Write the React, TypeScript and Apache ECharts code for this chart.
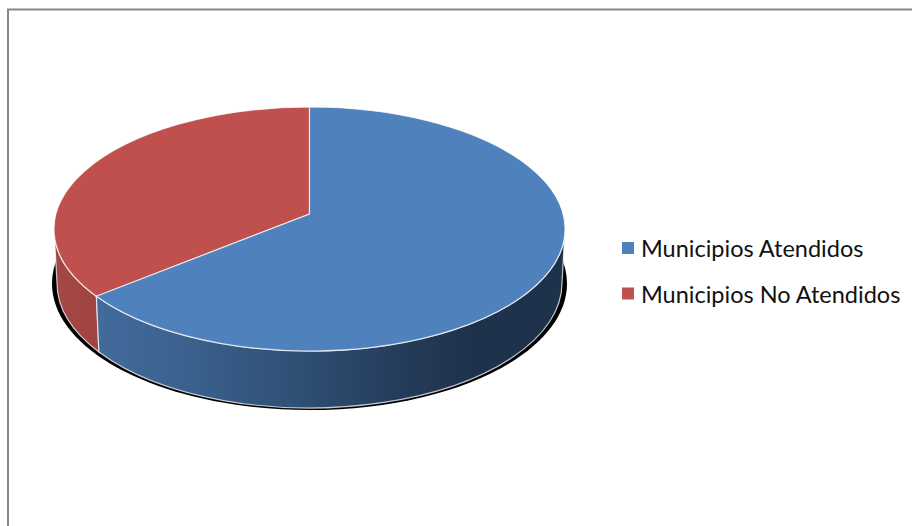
import React, { useEffect, useRef } from "react";
import * as echarts from "echarts";

const categories = ["Municipios Atendidos", "Municipios No Atendidos"];
const seriesValues = [65.7, 34.3];
const topColors = ["#4F81BD", "#C0504D"];

const TOP = { cx: 309.5, cy: 229, rx: 255.5, ry: 122 };
const BOTTOM = { cx: 309.5, cy: 283, rx: 252.5, ry: 125 };
const APEX = { x: 309.5, y: 214 };
const EDGE = "rgba(255,255,255,0.75)";

const pt = (e: any, a: number) => ({ x: e.cx + e.rx * Math.sin(a), y: e.cy - e.ry * Math.cos(a) });
const arcTo = (e: any, p: any, large: number, sweep: number) =>
  `A ${e.rx} ${e.ry} 0 ${large} ${sweep} ${p.x} ${p.y}`;

const total = seriesValues.reduce((s, v) => s + v, 0);
const angleOf = (v: number) => (v / total) * Math.PI * 2;

const sideGradients = [
  new echarts.graphic.LinearGradient(98, 0, 565, 0, [
    { offset: 0, color: "#416B9C" },
    { offset: 0.175, color: "#3B628F" },
    { offset: 0.43, color: "#2F4F74" },
    { offset: 0.65, color: "#243C5A" },
    { offset: 0.8, color: "#1F324B" },
    { offset: 1, color: "#1F324B" },
  ], true as any),
  new echarts.graphic.LinearGradient(54, 0, 100, 0, [
    { offset: 0, color: "#A54745" },
    { offset: 1, color: "#A04341" },
  ], true as any),
];

function renderSlice(index: number) {
  return (_params: any, api: any) => {
    const value = api.value(0);
    const start = index === 0 ? 0 : angleOf(seriesValues[0]);
    const end = start + angleOf(value);
    const a = pt(TOP, start);
    const b = pt(TOP, end);
    const large = end - start > Math.PI ? 1 : 0;
    const children: any[] = [];
    if (index === 1) {
      children.push({
        type: "ellipse",
        shape: { cx: 309.5, cy: 283.5, rx: 257.5, ry: 126.5 },
        style: { fill: "#000000" },
      });
    }
    const from = Math.max(start, Math.PI / 2);
    const to = Math.min(end, (Math.PI * 3) / 2);
    const t0 = pt(TOP, from);
    const t1 = pt(TOP, to);
    const b0 = pt(BOTTOM, from);
    const b1 = pt(BOTTOM, to);
    children.push({
      type: "path",
      shape: {
        pathData: `M ${t0.x} ${t0.y} ${arcTo(TOP, t1, 0, 1)} L ${b1.x} ${b1.y} ${arcTo(BOTTOM, b0, 0, 0)} Z`,
      },
      style: { fill: sideGradients[index], stroke: EDGE, lineWidth: 1.2 },
    });
    children.push({
      type: "path",
      shape: {
        pathData: `M ${APEX.x} ${APEX.y} L ${a.x} ${a.y} ${arcTo(TOP, b, large, 1)} Z`,
      },
      style: { fill: topColors[index], stroke: EDGE, lineWidth: 1.2 },
    });
    return { type: "group", children };
  };
}

export default function App() {
  const ref = useRef<HTMLDivElement>(null);
  useEffect(() => {
    document.body.style.margin = "0";
    const chart = echarts.init(ref.current!, undefined, { renderer: "svg" });
    chart.setOption({
      animation: false,
      backgroundColor: "#ffffff",
      graphic: [
        {
          type: "polyline",
          silent: true,
          shape: { points: [[8, 526], [8, 9.5], [912, 9.5]] },
          style: { stroke: "#888888", lineWidth: 2, fill: "none" },
        },
      ],
      legend: {
        orient: "vertical",
        left: 622,
        top: 233,
        padding: 0,
        itemWidth: 12,
        itemHeight: 12,
        itemGap: 15.5,
        icon: "rect",
        selectedMode: false,
        data: [categories[0], categories[1]],
        textStyle: {
          fontFamily: "Lato",
          fontSize: 23.5,
          color: "#111111",
          lineHeight: 30,
          padding: [0, 0, 0, 2],
        },
      },
      series: [
        {
          type: "custom",
          name: categories[1],
          coordinateSystem: "none",
          itemStyle: { color: topColors[1] },
          data: [[seriesValues[1]]],
          renderItem: renderSlice(1),
          silent: true,
        },
        {
          type: "custom",
          name: categories[0],
          coordinateSystem: "none",
          itemStyle: { color: topColors[0] },
          data: [[seriesValues[0]]],
          renderItem: renderSlice(0),
          silent: true,
        },
      ],
    });
    return () => chart.dispose();
  }, []);
  return <div ref={ref} style={{ width: 912, height: 526 }} />;
}
